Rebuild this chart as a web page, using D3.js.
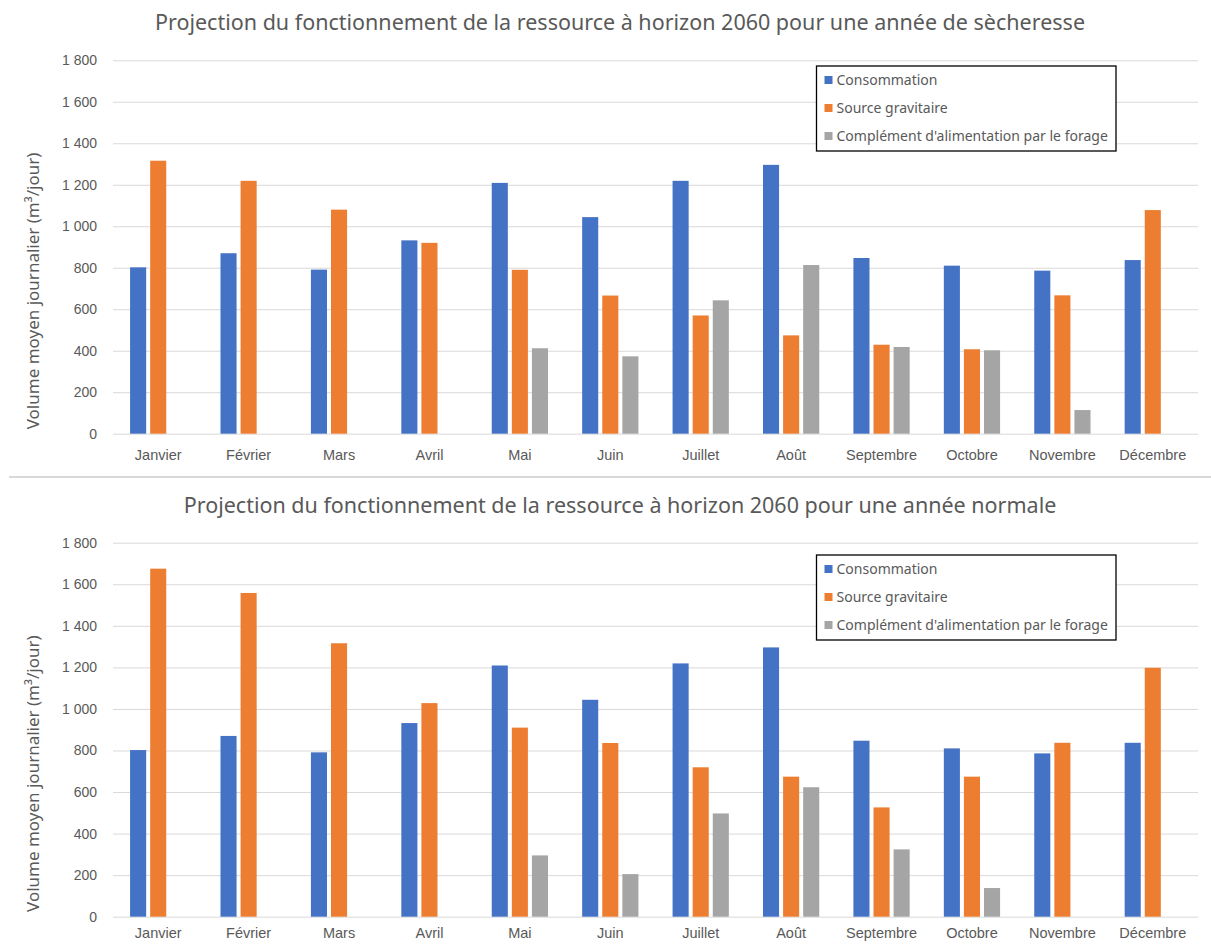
<!DOCTYPE html>
<html>
<head>
<meta charset="utf-8">
<script src="https://cdn.jsdelivr.net/npm/d3@7"></script>
<style>
  body { margin: 0; background: #fff; }
  svg { display: block; font-family: "Noto Sans", "Open Sans", sans-serif; }
</style>
</head>
<body>
<div id="chart"></div>
<script>
const months = ["Janvier", "Février", "Mars", "Avril", "Mai", "Juin",
  "Juillet", "Août", "Septembre", "Octobre", "Novembre", "Décembre"];
const seriesNames = ["Consommation", "Source gravitaire",
  "Complément d'alimentation par le forage"];
const yTicks = [0, 200, 400, 600, 800, 1000, 1200, 1400, 1600, 1800];

// same consumption in both scenarios
const consommation = [802, 870, 791, 932, 1209, 1044, 1219, 1296, 847, 810, 786, 837];
// année de sècheresse
const sourceSecheresse = [1316, 1219, 1080, 920, 790, 666, 570, 474, 429, 407, 667, 1078];
const forageSecheresse = [0, 0, 0, 0, 412, 373, 643, 813, 418, 402, 114, 0];
// année normale
const sourceNormale = [1675, 1558, 1316, 1028, 910, 836, 719, 674, 526, 674, 837, 1198];
const forageNormale = [0, 0, 0, 0, 295, 205, 497, 623, 324, 138, 0, 0];

const titles = [
  "Projection du fonctionnement de la ressource à horizon 2060 pour une année de sècheresse",
  "Projection du fonctionnement de la ressource à horizon 2060 pour une année normale"
];

const W = 1211, H = 944,
  colors = ["#4472C4", "#ED7D31", "#A5A5A5"],
  textColor = "#595959",
  gridColor = "#d9d9d9";

const fr = d3.formatLocale({ decimal: ",", thousands: "\u00a0", grouping: [3], currency: ["", " €"] });
const fmt = fr.format(",d");

const svg = d3.select("#chart").append("svg")
  .attr("width", W)
  .attr("height", H);

// separator between the two charts
svg.append("line")
  .attr("x1", 9).attr("x2", W)
  .attr("y1", 477).attr("y2", 477)
  .attr("stroke", gridColor)
  .attr("stroke-width", 2);

drawChart({ title: titles[0], values: [consommation, sourceSecheresse, forageSecheresse],
  titleY: 30, y0: 433.7, y1: 60.3, legendY: 66, labelPad: 16 });
drawChart({ title: titles[1], values: [consommation, sourceNormale, forageNormale],
  titleY: 513, y0: 916.7, y1: 542.7, legendY: 555, labelPad: 11 });

function drawChart(cfg) {
  const g = svg.append("g");

  const x = d3.scaleBand().domain(months).range([113, 1198]).padding(0);
  const y = d3.scaleLinear().domain([0, 1800]).range([cfg.y0, cfg.y1]);

  const clusterW = x.bandwidth() * 2 / 3;
  const xs = d3.scaleBand().domain(d3.range(3))
    .range([0, clusterW]).paddingInner(0.2).paddingOuter(0.1);

  // title
  g.append("text")
    .attr("x", 620)
    .attr("y", cfg.titleY)
    .attr("text-anchor", "middle")
    .attr("fill", textColor)
    .style("font-size", "21.5px")
    .text(cfg.title);

  // y axis with gridlines
  const yAxis = g.append("g")
    .attr("transform", "translate(113,0)")
    .call(d3.axisLeft(y).tickValues(yTicks).tickFormat(fmt)
      .tickSizeInner(-(1198 - 113)).tickSizeOuter(0).tickPadding(16));
  yAxis.select(".domain").remove();
  yAxis.selectAll("line").attr("stroke", gridColor);
  yAxis.selectAll("text").attr("fill", textColor).style("font-size", "14px");

  // y axis title
  g.append("text")
    .attr("transform", "translate(39," + ((cfg.y0 + cfg.y1) / 2 + 44) + ") rotate(-90)")
    .attr("text-anchor", "middle")
    .attr("fill", textColor)
    .style("font-size", "17px")
    .text("Volume moyen journalier (m³/jour)");

  // x axis labels
  const xAxis = g.append("g")
    .attr("transform", "translate(0," + cfg.y0 + ")")
    .call(d3.axisBottom(x).tickSize(0).tickPadding(cfg.labelPad));
  xAxis.select(".domain").remove();
  xAxis.selectAll("text").attr("fill", textColor).style("font-size", "14.5px");

  // bars
  cfg.values.forEach((vals, s) => {
    g.selectAll(".bar-" + s)
      .data(vals.map((v, i) => ({ m: months[i], v: v })).filter(d => d.v > 0))
      .enter()
      .append("rect")
      .attr("class", "bar-" + s)
      .attr("x", d => x(d.m) + (x.bandwidth() - clusterW) / 2 + xs(s))
      .attr("width", xs.bandwidth())
      .attr("y", d => y(d.v))
      .attr("height", d => y(0) - y(d.v))
      .style("fill", colors[s]);
  });

  // legend
  const lg = g.append("g").attr("transform", "translate(816.5," + cfg.legendY + ")");
  lg.append("rect")
    .attr("width", 299.5)
    .attr("height", 85)
    .attr("fill", "#fff")
    .attr("stroke", "#000")
    .attr("stroke-width", 1.3);
  seriesNames.forEach((name, i) => {
    lg.append("rect")
      .attr("x", 8).attr("y", 14 + i * 28 - 4)
      .attr("width", 8).attr("height", 8)
      .style("fill", colors[i]);
    lg.append("text")
      .attr("x", 20).attr("y", 14 + i * 28)
      .attr("dy", "0.35em")
      .attr("fill", textColor)
      .style("font-size", "14px")
      .text(name);
  });
}
</script>
</body>
</html>
